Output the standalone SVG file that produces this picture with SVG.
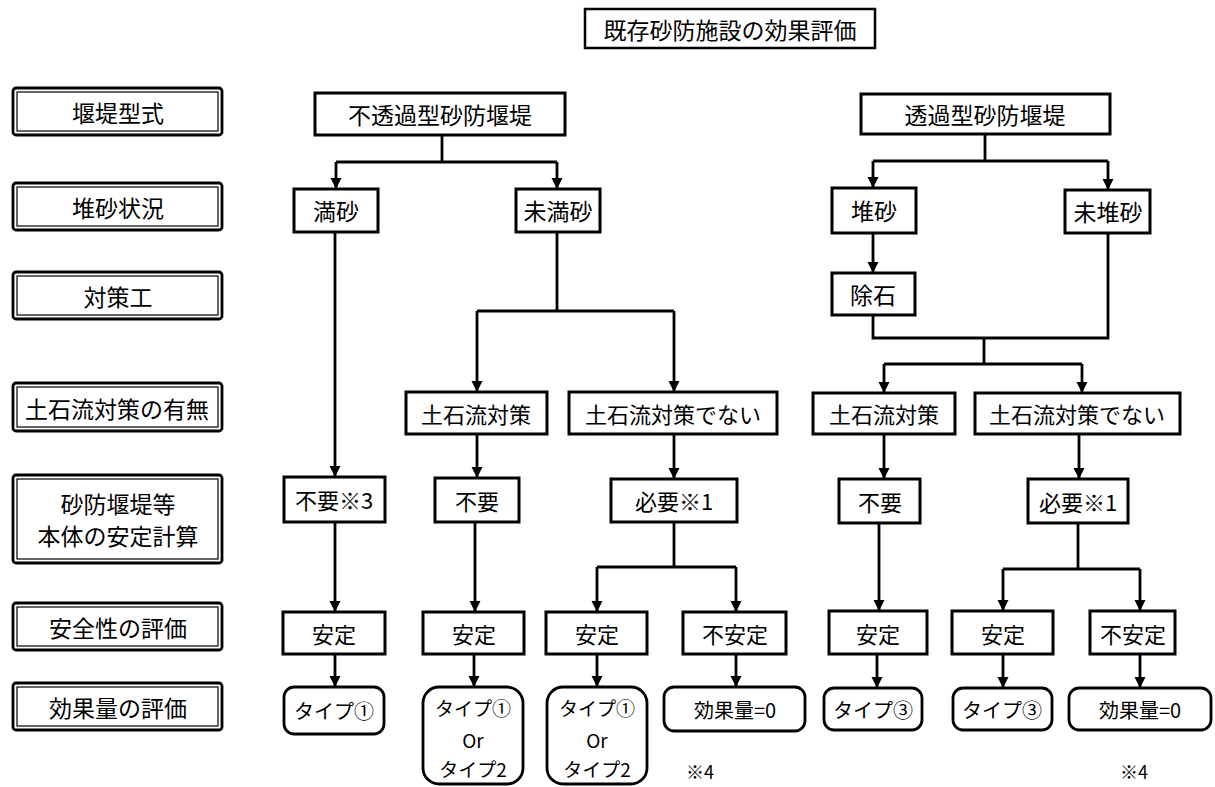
<svg xmlns="http://www.w3.org/2000/svg" width="1215" height="787" viewBox="0 0 1215 787">
<defs>
<marker id="ah" markerUnits="userSpaceOnUse" markerWidth="12" markerHeight="12" refX="11" refY="5.5" orient="auto">
<path d="M0,0 L11,5.5 L0,11 z" fill="#000"/>
</marker>
<style>
text{font-family:"Noto Sans CJK JP","Noto Sans",sans-serif;fill:#000;text-anchor:middle;dominant-baseline:central}
.t{font-size:23px}
.b{font-size:22px}
.s{font-size:20px}
.s2{font-size:19px}
.n{font-size:18px}
.box{fill:#fff;stroke:#000;stroke-width:3}
.rbox{fill:#fff;stroke:#000;stroke-width:2.8}
.lo{fill:#fff;stroke:#000;stroke-width:2.8}
.li{fill:none;stroke:#000;stroke-width:1.2}
.c{fill:none;stroke:#000;stroke-width:2.8}
.a{fill:none;stroke:#000;stroke-width:2.8;marker-end:url(#ah)}
</style>
</defs>
<rect width="1215" height="787" fill="#fff"/>

<g id="title">
<rect x="585" y="9" width="290" height="39" fill="#fff" stroke="#000" stroke-width="2.5"/>
<text class="t" x="730" y="29">既存砂防施設の効果評価</text>
</g>

<g id="labels">
<g id="lab1"><rect class="lo" x="13" y="88" width="209" height="47" rx="3"/><rect class="li" x="17" y="92" width="201" height="39"/><text class="t" x="118" y="112">堰堤型式</text></g>
<g id="lab2"><rect class="lo" x="13" y="183" width="209" height="47" rx="3"/><rect class="li" x="17" y="187" width="201" height="39"/><text class="t" x="118" y="207">堆砂状況</text></g>
<g id="lab3"><rect class="lo" x="13" y="272" width="209" height="47" rx="3"/><rect class="li" x="17" y="276" width="201" height="39"/><text class="t" x="118" y="296">対策工</text></g>
<g id="lab4"><rect class="lo" x="13" y="383" width="209" height="48" rx="3"/><rect class="li" x="17" y="387" width="201" height="40"/><text class="t" x="117" y="408">土石流対策の有無</text></g>
<g id="lab5"><rect class="lo" x="13" y="475" width="209" height="88" rx="3"/><rect class="li" x="17" y="479" width="201" height="80"/><text class="t" x="118" y="503">砂防堰堤等</text><text class="t" x="118" y="535">本体の安定計算</text></g>
<g id="lab6"><rect class="lo" x="13" y="603" width="209" height="47" rx="3"/><rect class="li" x="17" y="607" width="201" height="39"/><text class="t" x="118" y="627">安全性の評価</text></g>
<g id="lab7"><rect class="lo" x="13" y="683" width="209" height="47" rx="3"/><rect class="li" x="17" y="687" width="201" height="39"/><text class="t" x="118" y="707">効果量の評価</text></g>
</g>

<g id="connectors">
<!-- non-permeable -->
<path class="c" d="M442,135 V162 M336,162 H557"/>
<path class="a" d="M336,162 V189"/>
<path class="a" d="M557,162 V189"/>
<path class="a" d="M335,232 V477"/>
<path class="a" d="M335,522 V612"/>
<path class="a" d="M335,654 V687"/>
<path class="c" d="M557,232 V311 M477,311 H674"/>
<path class="a" d="M477,311 V392"/>
<path class="a" d="M674,311 V392"/>
<path class="a" d="M477,434 V478"/>
<path class="a" d="M475,522 V612"/>
<path class="a" d="M474,654 V687"/>
<path class="a" d="M674,434 V479"/>
<path class="c" d="M674,522 V567 M597,567 H736"/>
<path class="a" d="M597,567 V612"/>
<path class="a" d="M736,567 V612"/>
<path class="a" d="M597,654 V687"/>
<path class="a" d="M736,654 V687"/>
<!-- permeable -->
<path class="c" d="M985,134 V161 M873,161 H1108"/>
<path class="a" d="M873,161 V188"/>
<path class="a" d="M1108,161 V190"/>
<path class="a" d="M873,233 V273"/>
<path class="c" d="M873,315 V338 H1108 V233 M984,338 V364 M884,364 H1082"/>
<path class="a" d="M884,364 V393"/>
<path class="a" d="M1082,364 V393"/>
<path class="a" d="M884,434 V479"/>
<path class="a" d="M879,523 V611"/>
<path class="a" d="M877,654 V688"/>
<path class="a" d="M1079,434 V479"/>
<path class="c" d="M1078,523 V569 M1003,569 H1140"/>
<path class="a" d="M1003,569 V611"/>
<path class="a" d="M1140,569 V611"/>
<path class="a" d="M1003,654 V688"/>
<path class="a" d="M1140,654 V688"/>
</g>

<g id="n-futoka"><rect class="box" x="315" y="93" width="250" height="42"/><text class="t" x="440" y="114">不透過型砂防堰堤</text></g>
<g id="n-manpa"><rect class="box" x="294" y="189" width="84" height="43"/><text class="t" x="336" y="210">満砂</text></g>
<g id="n-mimanpa"><rect class="box" x="516" y="189" width="84" height="43"/><text class="t" x="558" y="210">未満砂</text></g>
<g id="n-toka"><rect class="box" x="861" y="94" width="249" height="40"/><text class="t" x="985" y="114">透過型砂防堰堤</text></g>
<g id="n-taisa"><rect class="box" x="832" y="188" width="84" height="45"/><text class="t" x="874" y="210">堆砂</text></g>
<g id="n-mitaisa"><rect class="box" x="1065" y="190" width="85" height="43"/><text class="t" x="1108" y="211">未堆砂</text></g>
<g id="n-joseki"><rect class="box" x="832" y="273" width="83" height="42"/><text class="t" x="873" y="294">除石</text></g>

<g id="n-dosekiL"><rect class="box" x="406" y="392" width="141" height="42"/><text class="b" x="476" y="413">土石流対策</text></g>
<g id="n-dosekinaiL"><rect class="box" x="569" y="392" width="208" height="42"/><text class="b" x="673" y="413">土石流対策でない</text></g>
<g id="n-dosekiR"><rect class="box" x="813" y="393" width="142" height="41"/><text class="b" x="884" y="413">土石流対策</text></g>
<g id="n-dosekinaiR"><rect class="box" x="975" y="393" width="205" height="41"/><text class="b" x="1077" y="413">土石流対策でない</text></g>

<g id="n-fuyo3"><rect class="box" x="284" y="477" width="101" height="45"/><text class="b" x="334" y="499">不要※3</text></g>
<g id="n-fuyoL"><rect class="box" x="435" y="478" width="84" height="44"/><text class="b" x="477" y="500">不要</text></g>
<g id="n-hitsuyoL"><rect class="box" x="611" y="479" width="126" height="43"/><text class="b" x="674" y="500">必要※1</text></g>
<g id="n-fuyoR"><rect class="box" x="839" y="479" width="81" height="44"/><text class="b" x="880" y="501">不要</text></g>
<g id="n-hitsuyoR"><rect class="box" x="1028" y="479" width="100" height="44"/><text class="b" x="1078" y="501">必要※1</text></g>

<g id="n-antei1"><rect class="box" x="283" y="612" width="102" height="42"/><text class="b" x="334" y="633">安定</text></g>
<g id="n-antei2"><rect class="box" x="423" y="612" width="101" height="42"/><text class="b" x="474" y="633">安定</text></g>
<g id="n-antei3"><rect class="box" x="546" y="612" width="101" height="42"/><text class="b" x="597" y="633">安定</text></g>
<g id="n-fuantei1"><rect class="box" x="683" y="612" width="103" height="42"/><text class="b" x="735" y="633">不安定</text></g>
<g id="n-antei4"><rect class="box" x="829" y="611" width="98" height="43"/><text class="b" x="878" y="633">安定</text></g>
<g id="n-antei5"><rect class="box" x="952" y="611" width="101" height="43"/><text class="b" x="1003" y="633">安定</text></g>
<g id="n-fuantei2"><rect class="box" x="1090" y="611" width="85" height="43"/><text class="b" x="1133" y="633">不安定</text></g>

<g id="n-type1a"><rect class="rbox" x="284" y="687" width="100" height="47" rx="10"/><text class="s" x="334" y="710">タイプ①</text></g>
<g id="n-type12a"><rect class="rbox" x="423" y="687" width="100" height="97" rx="16"/><text class="s2" x="473" y="707">タイプ①</text><text class="s2" x="473" y="739">Or</text><text class="s2" x="473" y="768">タイプ2</text></g>
<g id="n-type12b"><rect class="rbox" x="547" y="687" width="100" height="97" rx="16"/><text class="s2" x="597" y="707">タイプ①</text><text class="s2" x="597" y="739">Or</text><text class="s2" x="597" y="768">タイプ2</text></g>
<g id="n-zero1"><rect class="rbox" x="664" y="687" width="141" height="44" rx="10"/><text class="s" x="735" y="709">効果量=0</text></g>
<g id="n-type3a"><rect class="rbox" x="824" y="688" width="98" height="42" rx="10"/><text class="s" x="873" y="709">タイプ③</text></g>
<g id="n-type3b"><rect class="rbox" x="953" y="688" width="99" height="42" rx="10"/><text class="s" x="1002" y="709">タイプ③</text></g>
<g id="n-zero2"><rect class="rbox" x="1069" y="688" width="142" height="42" rx="10"/><text class="s" x="1140" y="709">効果量=0</text></g>

<g id="notes">
<text class="n" x="700" y="771">※4</text>
<text class="n" x="1134" y="771">※4</text>
</g>
</svg>
